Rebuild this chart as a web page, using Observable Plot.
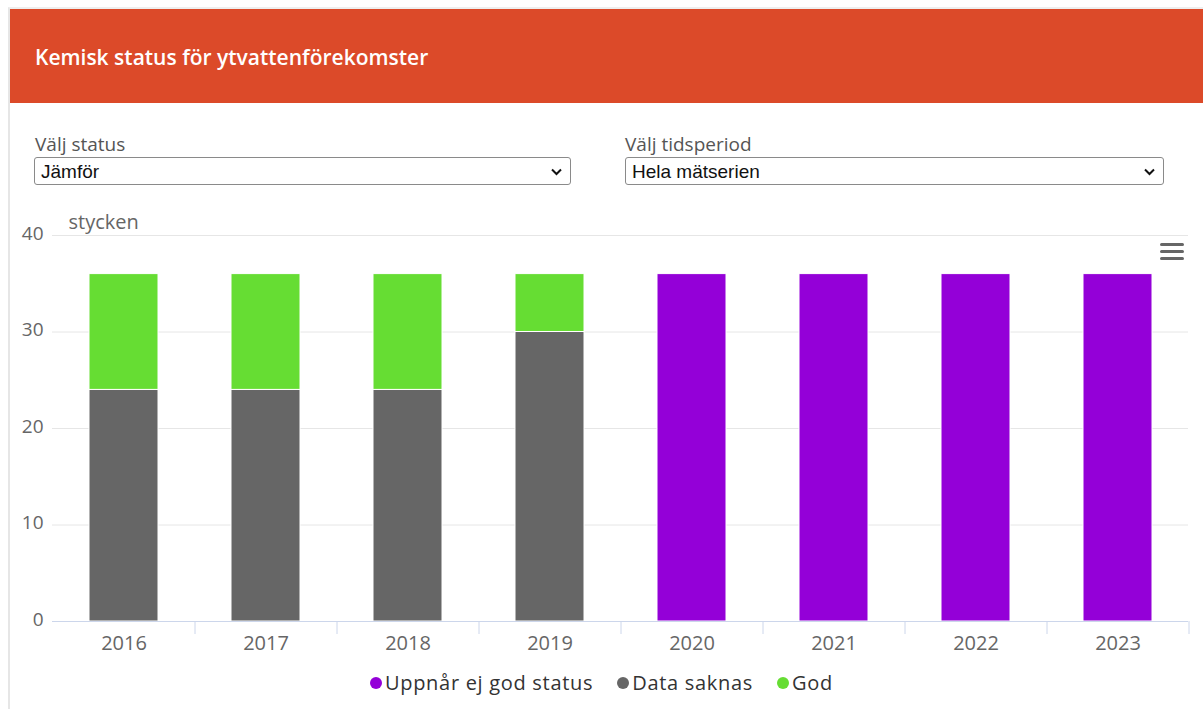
<!DOCTYPE html>
<html>
<head>
<meta charset="utf-8">
<script src="https://cdn.jsdelivr.net/npm/d3@7"></script>
<script src="https://cdn.jsdelivr.net/npm/@observablehq/plot@0.6"></script>
<style>
  html, body { margin: 0; padding: 0; background: #fff; width: 1203px; height: 709px; overflow: hidden; }
  body { position: relative; font-family: "Open Sans", "DejaVu Sans", sans-serif; }
  .frame { position: absolute; left: 8px; top: 7px; width: 1195px; height: 702px; border-left: 2px solid #e6e6e6; border-top: 2px solid #eeeeee; }
  .header { position: absolute; left: 10px; top: 9px; width: 1193px; height: 94px; background: #dc4a29; }
  .header h1 { margin: 0; position: absolute; left: 25px; top: 34px; font-size: 21px; font-weight: 600; color: #fff; }
  .lbl { position: absolute; font-size: 19px; color: #555; font-weight: 400; }
  .sel { position: absolute; height: 26px; border: 1px solid #8a8a8a; border-radius: 3px; background: #fff; font-family: "Liberation Sans", Arial, sans-serif; font-size: 19px; color: #111; line-height: 27px; box-sizing: content-box; }
  .sel span { position: absolute; left: 6px; top: 0; }
  .sel svg { position: absolute; right: 8px; top: 10px; }
  .menu { position: absolute; left: 1160px; top: 243px; width: 24px; }
  .menu div { height: 3px; background: #666; border-radius: 2px; margin-bottom: 4px; }
  #chart { position: absolute; left: 0; top: 205px; }
  .legend { position: absolute; top: 669px; left: 0; width: 1203px; text-align: center; font-size: 20px; color: #333; font-family: "Open Sans", sans-serif; letter-spacing: 0.7px; }
  .legend span.item { margin: 0 12px; white-space: nowrap; }
  .legend span.dot { display: inline-block; width: 12px; height: 12px; border-radius: 50%; margin-right: 3px; vertical-align: 1px; }
</style>
</head>
<body>
<div class="frame"></div>
<div class="header"><h1>Kemisk status för ytvattenförekomster</h1></div>
<div class="lbl" style="left:35px; top:131px;">Välj status</div>
<div class="sel" style="left:34px; top:157px; width:535px;"><span>Jämför</span><svg width="11" height="8" viewBox="0 0 11 8"><path d="M1 1.5 L5.5 6 L10 1.5" fill="none" stroke="#111" stroke-width="2"/></svg></div>
<div class="lbl" style="left:625px; top:131px;">Välj tidsperiod</div>
<div class="sel" style="left:625px; top:157px; width:537px;"><span>Hela mätserien</span><svg width="11" height="8" viewBox="0 0 11 8"><path d="M1 1.5 L5.5 6 L10 1.5" fill="none" stroke="#111" stroke-width="2"/></svg></div>
<div id="chart"></div>
<div class="menu"><div></div><div></div><div></div></div>
<div class="legend" id="legend"></div>
<script>
const years = ["2016", "2017", "2018", "2019", "2020", "2021", "2022", "2023"];
const seriesNames = ["Data saknas", "God", "Uppnår ej god status"];
const dataSaknas = [24, 24, 24, 30, 0, 0, 0, 0];
const god = [12, 12, 12, 6, 0, 0, 0, 0];
const uppnarEj = [0, 0, 0, 0, 36, 36, 36, 36];
const yTicks = [0, 10, 20, 30, 40];
const legendOrder = ["Uppnår ej god status", "Data saknas", "God"];
const colors = {"Uppnår ej god status": "#9400d8", "Data saknas": "#666666", "God": "#66dd33"};

const seriesValues = [dataSaknas, god, uppnarEj];
const rows = [];
seriesNames.forEach((s, i) => {
  years.forEach((y, j) => {
    if (seriesValues[i][j] > 0) rows.push({year: y, series: s, value: seriesValues[i][j]});
  });
});

const W = 1203, ML = 52, MR = 15;
const step = (W - ML - MR) / years.length;

const chart = Plot.plot({
  width: W,
  height: 460,
  marginLeft: ML,
  marginRight: MR,
  marginTop: 30,
  marginBottom: 44,
  style: {fontFamily: "Open Sans, sans-serif", fontSize: "16px", color: "#666", background: "transparent", overflow: "visible"},
  x: {domain: years, paddingInner: 0.515, paddingOuter: 0.2575},
  y: {domain: [0, 40], ticks: yTicks},
  color: {domain: Object.keys(colors), range: Object.values(colors)},
  marks: [
    Plot.gridY(yTicks.filter(d => d > 0), {stroke: "#e6e6e6", strokeOpacity: 1, strokeWidth: 1}),
    Plot.barY(rows, {x: "year", y: "value", fill: "series", stroke: "#fff", strokeWidth: 1, order: seriesNames}),
    Plot.ruleY([0], {stroke: "#ccd6eb", strokeWidth: 1}),
    Plot.ruleX(years, {x: d => d, dx: step / 2, y1: 0, y2: 0, insetBottom: -13, stroke: "#ccd6eb"}),
    Plot.axisY({ticks: yTicks, tickSize: 0, tickPadding: 9, dy: -2, label: null, fontSize: 19, fill: "#666"}),
    Plot.axisX({tickSize: 0, tickPadding: 14, label: null, fontSize: 20, fill: "#666"}),
    Plot.text(["stycken"], {frameAnchor: "top-left", dx: 16, dy: -13, lineAnchor: "middle", textAnchor: "start", fill: "#666", fontSize: 20})
  ]
});
document.getElementById("chart").appendChild(chart);

const leg = document.getElementById("legend");
legendOrder.forEach(name => {
  const item = document.createElement("span");
  item.className = "item";
  const dot = document.createElement("span");
  dot.className = "dot";
  dot.style.background = colors[name];
  item.appendChild(dot);
  item.appendChild(document.createTextNode(name));
  leg.appendChild(item);
});
</script>
</body>
</html>
